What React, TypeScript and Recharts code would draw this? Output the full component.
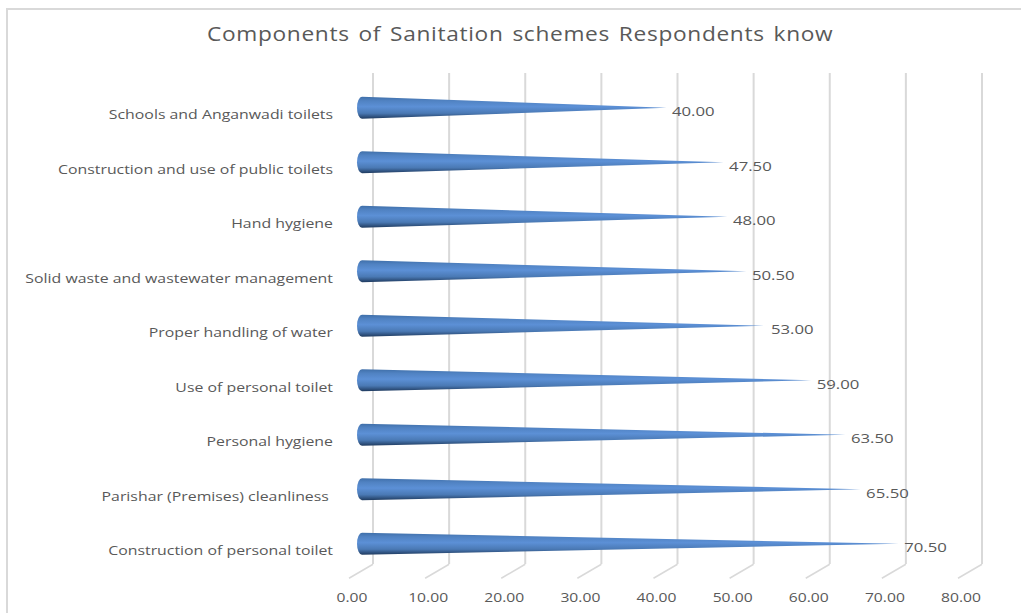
import { Bar, BarChart, CartesianGrid, LabelList, XAxis, YAxis } from "recharts";

const categories = [
  "Schools and Anganwadi toilets",
  "Construction and use of public toilets",
  "Hand hygiene",
  "Solid waste and wastewater management",
  "Proper handling of water",
  "Use of personal toilet",
  "Personal hygiene",
  "Parishar (Premises) cleanliness\u00a0",
  "Construction of personal toilet",
];
const percentages = [40, 47.5, 48, 50.5, 53, 59, 63.5, 65.5, 70.5];
const valueTicks = [0, 10, 20, 30, 40, 50, 60, 70, 80];

const tableRows = categories.map((name, i) => ({ name, value: percentages[i] }));

const FONT = "'Open Sans', sans-serif";
const TEXT_COLOR = "#595959";
const GRID_COLOR = "#d9d9d9";
// the back wall sits this far right of the value scale (fake 3D depth)
const DEPTH = 11;

const Cone = ({ x, y, width, height }: any) => {
  const cy = y + height / 2;
  return (
    <path
      d={`M${x},${y} L${x + width},${cy} L${x},${y + height} A5,${height / 2} 0 0 1 ${x},${y} Z`}
      fill="url(#coneFill)"
    />
  );
};

// all chart text is stretched sideways, so it is drawn through a scaleX
const WideText = ({ x, y, stretch, anchor = "start", size = 13.5, children }: any) => (
  <text
    transform={`translate(${x},${y}) scale(${stretch},1)`}
    textAnchor={anchor}
    dominantBaseline="central"
    fontFamily={FONT}
    fontSize={size}
    fill={TEXT_COLOR}
  >
    {children}
  </text>
);

const ValueTick = ({ x, y, payload }: any) => (
  <g>
    <line x1={x + DEPTH} y1={y - 7} x2={x - 13} y2={y + 7} stroke={GRID_COLOR} strokeWidth={1.5} />
    <WideText x={x - 10} y={y + 25} anchor="middle" stretch={1.16}>
      {payload.value.toFixed(2)}
    </WideText>
  </g>
);

const CategoryTick = ({ x, y, payload }: any) => (
  <WideText x={x} y={y + 6} anchor="end" stretch={1.175}>
    {payload.value}
  </WideText>
);

const ValueLabel = ({ x, y, width, height, value }: any) => (
  <WideText x={x + width + 5.5} y={y + height / 2 + 3} stretch={1.24}>
    {Number(value).toFixed(2)}
  </WideText>
);

export default function App() {
  return (
    <div style={{ position: "absolute", left: 0, top: 0, width: 1021, height: 613, background: "#fff", overflow: "hidden" }}>
      <div style={{ position: "absolute", left: 6, top: 8, right: 0, bottom: 0, borderTop: `2px solid ${GRID_COLOR}`, borderLeft: `2px solid ${GRID_COLOR}` }} />
      <div
        style={{
          position: "absolute",
          left: 207,
          top: 20,
          fontFamily: FONT,
          fontSize: 20,
          letterSpacing: 0.6,
          wordSpacing: 2,
          color: TEXT_COLOR,
          whiteSpace: "nowrap",
          transform: "scaleX(1.134)",
          transformOrigin: "0 0",
        }}
      >
        Components of Sanitation schemes Respondents know
      </div>
      <BarChart
        width={1021}
        height={613}
        data={tableRows}
        layout="vertical"
        barCategoryGap={0}
        margin={{ top: 80.75, right: 50, bottom: 0, left: 22 }}
        style={{ position: "absolute", left: 0, top: 0 }}
      >
        <defs>
          <linearGradient id="coneFill" x1="0" y1="0" x2="0" y2="1">
            <stop offset="0%" stopColor="#3f6fa9" />
            <stop offset="18%" stopColor="#5082c2" />
            <stop offset="45%" stopColor="#5c90d6" />
            <stop offset="75%" stopColor="#4a79b4" />
            <stop offset="100%" stopColor="#1f3a5e" />
          </linearGradient>
        </defs>
        <CartesianGrid
          horizontal={false}
          y={73}
          height={491}
          stroke={GRID_COLOR}
          strokeWidth={2}
          verticalCoordinatesGenerator={({ offset }: any) =>
            valueTicks.map((t) => offset.left + (t / 80) * offset.width + DEPTH)
          }
        />
        <XAxis
          type="number"
          domain={[0, 80]}
          ticks={valueTicks}
          interval={0}
          height={41.75}
          axisLine={false}
          tickLine={false}
          tickSize={0}
          tickMargin={0}
          tick={<ValueTick />}
        />
        <YAxis
          type="category"
          dataKey="name"
          width={340}
          interval={0}
          axisLine={false}
          tickLine={false}
          tickSize={0}
          tickMargin={29}
          tick={<CategoryTick />}
        />
        <Bar dataKey="value" barSize={22} shape={<Cone />} isAnimationActive={false}>
          <LabelList dataKey="value" content={<ValueLabel />} />
        </Bar>
      </BarChart>
    </div>
  );
}
